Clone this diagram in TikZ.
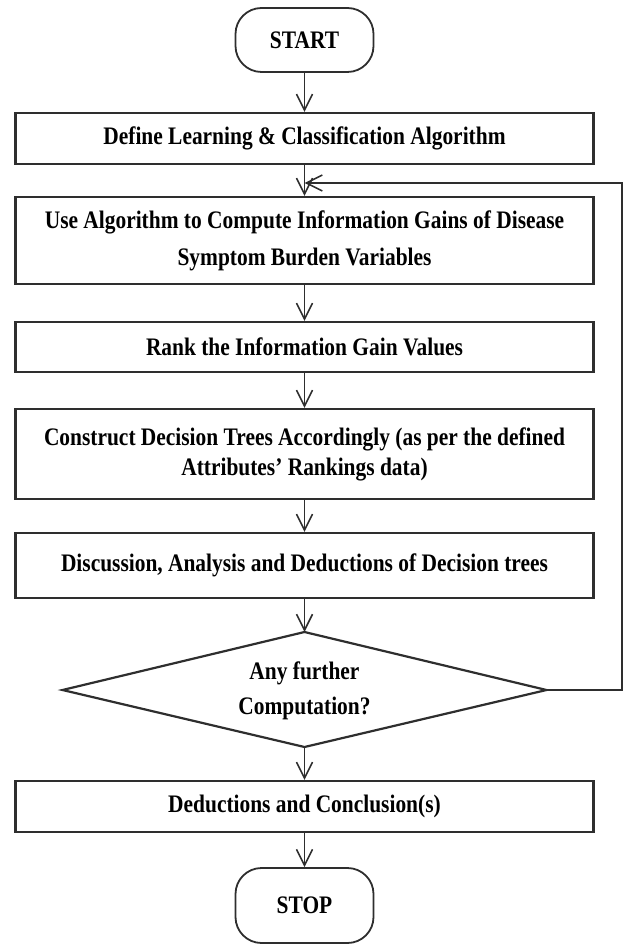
\documentclass[tikz,border=0pt]{standalone}
\usepackage{fontspec}
\setmainfont[FakeStretch=0.85]{Liberation Serif}
\usetikzlibrary{arrows.meta}
\definecolor{linec}{HTML}{2E2E2E}
\begin{document}
\begin{tikzpicture}[x=0.5pt,y=-0.5pt,
  txt/.style={font=\bfseries\fontsize{12.6}{18}\selectfont, align=center, text=black},
  box/.style={txt, draw=linec, line width=1.1pt, rectangle, minimum width=289pt, inner sep=0pt},
  term/.style={txt, draw=linec, line width=0.9pt, rectangle, rounded corners=13pt, minimum width=69pt, inner sep=0pt},
  decision/.style={draw=linec, line width=1.1pt},
  flow/.style={draw=linec, line width=0.8pt, -{Straight Barb[length=8pt,width=8pt]}}]
\useasboundingbox (0,0) rectangle (625,946);

\node[term, minimum height=32pt] (start) at (304.5,40) {START};
\node[box, minimum height=25.5pt] (define) at (304.5,138.5) {Define Learning \& Classification Algorithm};
\node[box, minimum height=43.5pt, font=\bfseries\fontsize{12.6}{18.5}\selectfont] (use) at (304.5,240.5) {Use Algorithm to Compute Information Gains of Disease\\Symptom Burden Variables};
\node[box, minimum height=25pt] (rank) at (304.5,347) {Rank the Information Gain Values};
\node[box, minimum height=45pt, font=\bfseries\fontsize{12.6}{15}\selectfont] (construct) at (304.5,454) {Construct Decision Trees Accordingly (as per the defined\\Attributes’ Rankings data)};
\node[box, minimum height=32.5pt] (discuss) at (304.5,565.5) {Discussion, Analysis and Deductions of Decision trees};

\coordinate (mt) at (304.5,632);
\coordinate (mr) at (546.5,690);
\coordinate (mb) at (304.5,747);
\coordinate (ml) at (62.5,690);
\draw[decision] (mt) -- (mr) -- (mb) -- (ml) -- cycle;
\node[txt, font=\bfseries\fontsize{12.6}{17.5}\selectfont] (more) at (304.5,690.5) {Any further\\Computation?};

\node[box, minimum height=25.5pt] (deduct) at (304.5,806.5) {Deductions and Conclusion(s)};
\node[term, minimum height=37.5pt] (stop) at (304.5,905.5) {STOP};

\coordinate (loopc) at (622,183);
\coordinate (merge) at (304.5,183);

\draw[flow] (start) -- (define);
\draw[flow] (define) -- (use);
\draw[flow] (use) -- (rank);
\draw[flow] (rank) -- (construct);
\draw[flow] (construct) -- (discuss);
\draw[flow] (discuss) -- (mt);
\draw[flow] (mb) -- (deduct);
\draw[flow] (deduct) -- (stop);
\draw[flow] (mr) -| (loopc) -- (merge);
\end{tikzpicture}
\end{document}
